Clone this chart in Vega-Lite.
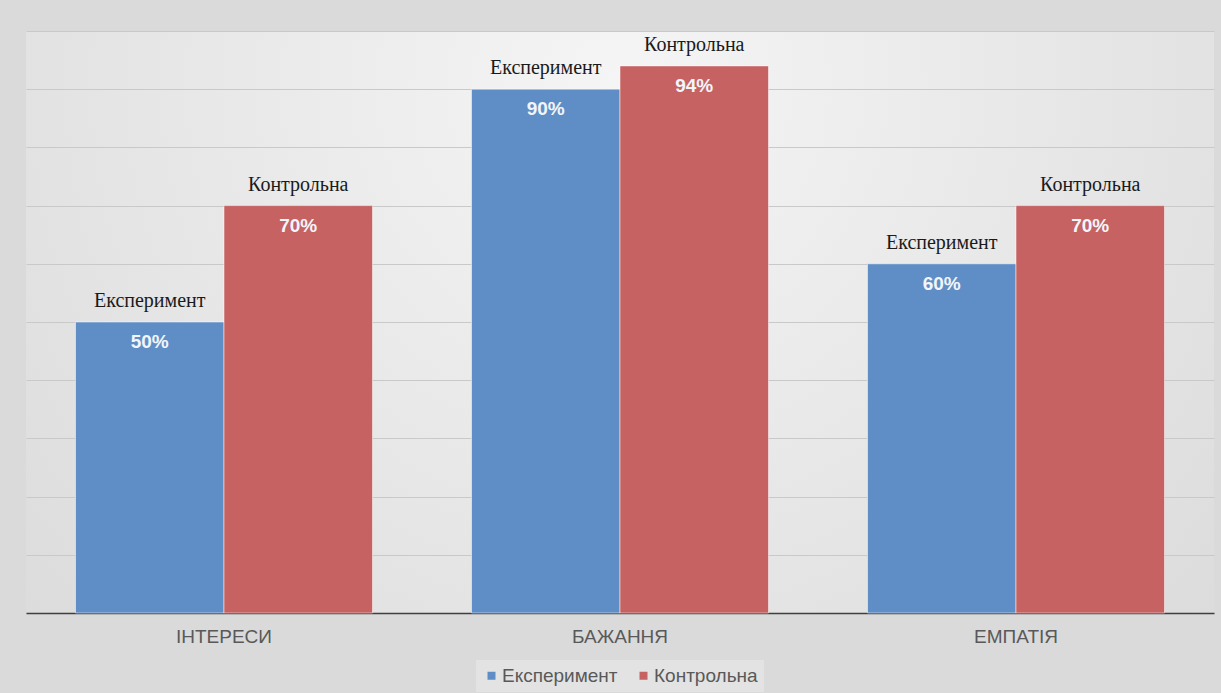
{
  "$schema": "https://vega.github.io/schema/vega-lite/v6.json",
  "width": 1188,
  "height": 582,
  "autosize": {"type": "none"},
  "padding": {"left": 26, "top": 31, "right": 7, "bottom": 80},
  "background": "#dadada",
  "config": {
    "view": {
      "stroke": null,
      "fill": {
        "gradient": "radial",
        "x1": 0.5, "y1": 0.3, "r1": 0,
        "x2": 0.5, "y2": 0.3, "r2": 0.75,
        "stops": [
          {"offset": 0, "color": "#f5f5f5"},
          {"offset": 1, "color": "#d9d9d9"}
        ]
      }
    },
    "font": "Liberation Sans"
  },
  "data": {
    "values": [
      {"category": "ІНТЕРЕСИ", "group": "Експеримент", "value": 0.50},
      {"category": "ІНТЕРЕСИ", "group": "Контрольна", "value": 0.70},
      {"category": "БАЖАННЯ", "group": "Експеримент", "value": 0.90},
      {"category": "БАЖАННЯ", "group": "Контрольна", "value": 0.94},
      {"category": "ЕМПАТІЯ", "group": "Експеримент", "value": 0.60},
      {"category": "ЕМПАТІЯ", "group": "Контрольна", "value": 0.70}
    ]
  },
  "encoding": {
    "x": {
      "field": "category",
      "type": "nominal",
      "sort": ["ІНТЕРЕСИ", "БАЖАННЯ", "ЕМПАТІЯ"],
      "scale": {"paddingInner": 0.25, "paddingOuter": 0.125},
      "axis": {
        "title": null,
        "labelAngle": 0,
        "labelFont": "Liberation Sans",
        "labelFontSize": 19,
        "labelColor": "#595959",
        "labelPadding": 14,
        "ticks": false,
        "domainColor": "#3f3f3f",
        "domainWidth": 1.5,
        "grid": false
      }
    },
    "xOffset": {"field": "group", "type": "nominal", "sort": ["Експеримент", "Контрольна"]},
    "y": {
      "field": "value",
      "type": "quantitative",
      "scale": {"domain": [0, 1]},
      "axis": {
        "title": null,
        "labels": false,
        "ticks": false,
        "domain": false,
        "grid": true,
        "gridColor": "#c9c9c9",
        "gridWidth": 1,
        "values": [0, 0.1, 0.2, 0.3, 0.4, 0.5, 0.6, 0.7, 0.8, 0.9, 1.0]
      }
    }
  },
  "layer": [
    {
      "mark": {"type": "bar", "stroke": "#ffffff", "strokeOpacity": 0.5, "strokeWidth": 1},
      "encoding": {
        "color": {
          "field": "group",
          "type": "nominal",
          "sort": ["Експеримент", "Контрольна"],
          "scale": {"domain": ["Експеримент", "Контрольна"], "range": ["#5f8ec6", "#c66262"]},
          "legend": {
            "title": null,
            "orient": "none",
            "legendX": 450,
            "legendY": 629,
            "direction": "horizontal",
            "symbolType": "square",
            "symbolSize": 64,
            "symbolStrokeWidth": 0,
            "labelFont": "Liberation Sans",
            "labelFontSize": 19,
            "labelColor": "#595959",
            "labelOffset": 1,
            "columnPadding": 16,
            "padding": 6,
            "fillColor": "#e3e3e3"
          }
        }
      }
    },
    {
      "mark": {
        "type": "text",
        "baseline": "top",
        "dy": 11,
        "font": "Liberation Sans",
        "fontSize": 19,
        "fontWeight": "bold",
        "color": "#f2f5fa"
      },
      "encoding": {
        "text": {"field": "value", "type": "quantitative", "format": ".0%"}
      }
    },
    {
      "mark": {
        "type": "text",
        "baseline": "alphabetic",
        "dy": -15,
        "font": "Liberation Serif",
        "fontSize": 20,
        "color": "#1a1a1a"
      },
      "encoding": {
        "text": {"field": "group", "type": "nominal"}
      }
    }
  ]
}
